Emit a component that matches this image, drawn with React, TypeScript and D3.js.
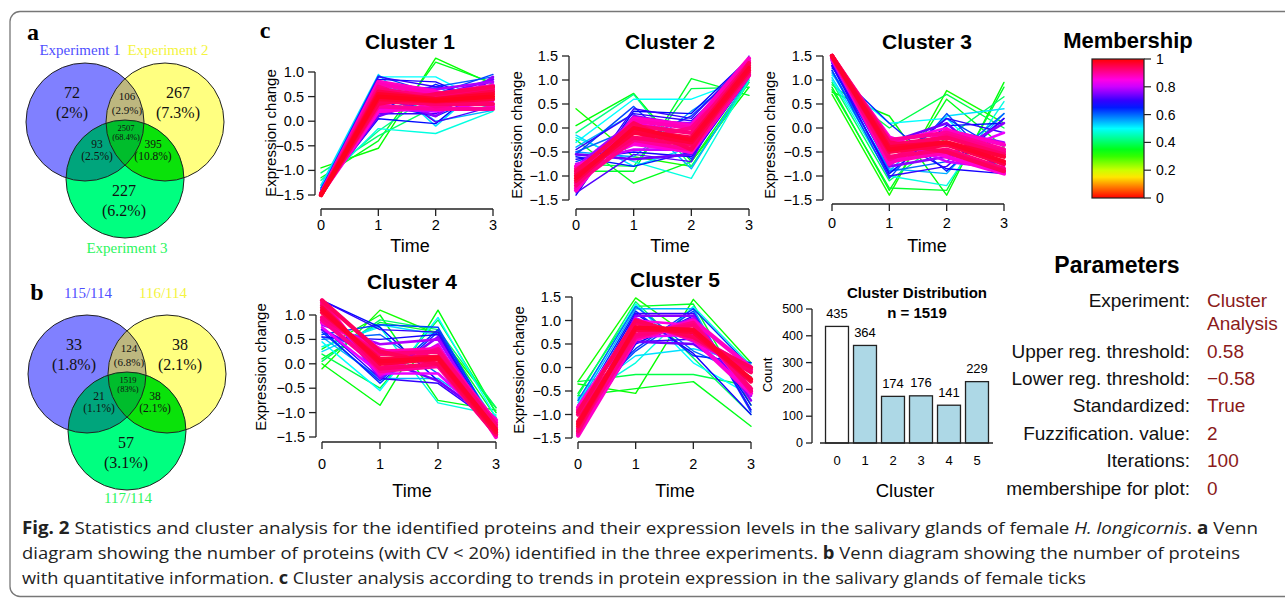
import React from "react";
import * as d3 from "d3";

const SANS = "'Liberation Sans', Arial, Helvetica, sans-serif";
const SERIF = "'Liberation Serif', 'Times New Roman', serif";

// ---- Venn data (regions: 1, 2, 3, 1∩2, 1∩3, 2∩3, 1∩2∩3)
const vennACounts = ["72", "267", "227", "106", "93", "395", "2507"];
const vennAPercents = ["2%", "7.3%", "6.2%", "2.9%", "2.5%", "10.8%", "68.4%"];
const vennASets = ["Experiment 1", "Experiment 2", "Experiment 3"];
const vennBCounts = ["33", "38", "57", "124", "21", "38", "1519"];
const vennBPercents = ["1.8%", "2.1%", "3.1%", "6.8%", "1.1%", "2.1%", "83%"];
const vennBSets = ["115/114", "116/114", "117/114"];

// ---- cluster profiles: [membership, t0, t1, t2, t3]
const timePoints = [0, 1, 2, 3];
const clusterNames = ["Cluster 1", "Cluster 2", "Cluster 3", "Cluster 4", "Cluster 5"];

const cluster1 = [
  [0.33, -0.95, -0.55, 1.28, 0.75],
  [0.35, -1.15, -0.4, 1.2, 0.78],
  [0.4, -1.05, -0.3, 0.3, 0.7],
  [0.42, -1.2, -0.2, 0.6, 0.25],
  [0.48, -1.3, -0.15, -0.25, 0.2],
  [0.5, -1.35, 0.9, 0.9, 0.3],
  [0.52, -1.3, 0.95, -0.1, 0.9],
  [0.55, -1.35, 0.1, 0.7, 0.25],
  [0.55, -1.4, 0.85, 0.0, 0.22],
  [0.6, -1.36, 0.6, 0.7, 0.9],
  [0.62, -1.38, 0.92, 0.55, 0.95],
  [0.64, -1.4, 0.35, 0.1, 0.6],
  [0.65, -1.4, 0.2, 0.75, 0.35],
  [0.66, -1.42, 0.05, -0.05, 0.9],
  [0.68, -1.42, 0.85, 0.8, 0.3],
  [0.7, -1.45, 0.15, 0.15, 0.85],
  [0.7, -1.43, 0.9, 0.7, 0.5],
  [0.72, -1.44, 0.8, -0.02, 0.3],
  [0.74, -1.45, 0.1, 0.5, 0.85],
  [0.76, -1.45, 0.55, 0.1, 0.9],
  [0.78, -1.46, 0.75, 0.65, 0.8],
  [0.8, -1.46, 0.25, 0.2, 0.75],
  [0.82, -1.47, 0.7, 0.2, 0.4],
  [0.84, -1.47, 0.3, 0.6, 0.3],
  [0.86, -1.48, 0.2, 0.3, 0.7],
  [0.87, -1.48, 0.8, 0.6, 0.3],
  [0.88, -1.48, 0.75, 0.55, 0.72],
  [0.9, -1.48, 0.3, 0.25, 0.25],
  [0.91, -1.49, 0.7, 0.3, 0.45],
  [0.92, -1.49, 0.65, 0.5, 0.65],
  [0.93, -1.49, 0.4, 0.35, 0.35],
  [0.94, -1.5, 0.35, 0.55, 0.7],
  [0.95, -1.5, 0.6, 0.45, 0.6],
  [0.96, -1.5, 0.45, 0.4, 0.45],
  [0.97, -1.5, 0.55, 0.45, 0.55],
  [0.98, -1.5, 0.5, 0.42, 0.5],
];

const cluster2 = [
  [0.32, 0.4, -0.6, -0.8, 0.95],
  [0.34, 0.05, 0.72, -0.7, 0.85],
  [0.35, -0.25, -1.15, -0.7, 1.0],
  [0.36, -0.9, -0.9, 1.03, 0.68],
  [0.38, -0.75, -0.8, 0.82, 0.85],
  [0.42, -0.1, 0.7, -0.8, 0.95],
  [0.48, -0.2, -0.7, -1.05, 1.0],
  [0.5, -0.3, 0.6, 0.6, 1.05],
  [0.52, -0.15, -0.8, -0.4, 1.1],
  [0.55, -0.4, 0.3, -0.85, 1.05],
  [0.56, -0.5, -0.6, 0.35, 1.15],
  [0.6, -0.5, 0.0, -0.2, 1.2],
  [0.62, -0.55, 0.45, -0.65, 1.2],
  [0.63, -0.7, -0.3, 0.25, 1.35],
  [0.65, -0.6, -0.8, -0.5, 1.3],
  [0.67, -1.4, 0.35, 0.3, 1.45],
  [0.68, -0.65, -0.5, -0.6, 1.05],
  [0.7, -0.45, 0.3, 0.15, 1.25],
  [0.7, -1.3, 0.4, 0.2, 1.45],
  [0.72, -1.35, -0.55, -0.7, 1.5],
  [0.74, -0.55, -0.65, -0.55, 1.1],
  [0.76, -1.2, 0.25, 0.05, 1.45],
  [0.78, -0.8, 0.15, 0.1, 1.35],
  [0.8, -0.75, -0.45, -0.45, 1.1],
  [0.82, -1.3, 0.1, -0.1, 1.4],
  [0.85, -0.85, -0.35, -0.5, 1.15],
  [0.86, -0.8, -0.3, -0.5, 1.1],
  [0.87, -1.3, 0.2, 0.05, 1.45],
  [0.88, -1.25, 0.15, 0.0, 1.4],
  [0.9, -0.85, -0.25, -0.45, 1.1],
  [0.91, -1.15, -0.25, 0.0, 1.2],
  [0.92, -1.2, 0.05, -0.1, 1.35],
  [0.93, -0.95, -0.2, -0.35, 1.15],
  [0.94, -0.9, 0.1, -0.45, 1.35],
  [0.95, -1.1, -0.05, -0.2, 1.3],
  [0.96, -1.0, -0.1, -0.3, 1.2],
  [0.97, -1.05, 0.0, -0.25, 1.25],
];

const cluster3 = [
  [0.32, 0.7, -1.4, 0.78, 0.1],
  [0.34, 0.75, 0.25, -1.4, 0.95],
  [0.35, 0.85, -1.3, 0.6, -0.4],
  [0.36, 0.8, -1.25, -1.3, 0.85],
  [0.38, 0.9, 0.0, 0.7, 0.0],
  [0.4, 0.95, -1.1, -0.2, 0.65],
  [0.48, 1.0, -1.0, -1.2, 0.55],
  [0.5, 1.1, 0.1, 0.2, -0.9],
  [0.52, 1.05, -0.9, 0.25, 0.4],
  [0.55, 1.15, -0.85, -0.95, 0.3],
  [0.6, 1.2, -0.9, -0.7, 0.3],
  [0.62, 1.2, -1.05, 0.3, -0.95],
  [0.63, 1.3, -0.8, 0.2, -0.5],
  [0.64, 1.25, 0.1, -0.9, 0.2],
  [0.66, 1.3, -0.95, 0.05, 0.1],
  [0.68, 1.35, -0.2, -0.85, -0.95],
  [0.7, 1.3, -0.75, 0.2, -0.1],
  [0.7, 1.35, -1.0, -0.8, 0.2],
  [0.74, 1.4, -0.3, 0.1, -0.95],
  [0.76, 1.42, -0.8, -0.6, 0.1],
  [0.78, 1.4, -0.75, -0.05, -0.3],
  [0.8, 1.4, -0.2, -0.7, -0.85],
  [0.82, 1.45, -0.65, -0.55, -0.1],
  [0.85, 1.42, -0.3, 0.0, -0.8],
  [0.86, 1.45, -0.2, -0.6, -0.95],
  [0.87, 1.48, -0.75, -0.05, -0.35],
  [0.88, 1.48, -0.7, -0.5, -0.9],
  [0.9, 1.5, -0.25, -0.1, -0.45],
  [0.91, 1.5, -0.65, -0.15, -0.5],
  [0.92, 1.48, -0.6, -0.45, -0.85],
  [0.93, 1.5, -0.35, -0.2, -0.55],
  [0.94, 1.5, -0.3, -0.5, -0.9],
  [0.95, 1.5, -0.5, -0.35, -0.75],
  [0.96, 1.5, -0.4, -0.3, -0.6],
  [0.97, 1.5, -0.45, -0.3, -0.7],
];

const cluster4 = [
  [0.32, -0.1, 1.1, 0.6, -0.9],
  [0.34, 0.0, -0.85, 1.1, -1.0],
  [0.35, 0.3, 1.0, -0.75, -0.95],
  [0.36, 0.1, 0.85, 0.65, -1.1],
  [0.38, 0.2, -0.5, 0.9, -1.0],
  [0.4, 0.05, 0.9, 0.7, -0.9],
  [0.48, 0.35, 0.75, -0.8, -1.05],
  [0.5, 0.45, -0.55, 0.95, -1.1],
  [0.52, 0.25, 0.8, 0.6, -1.2],
  [0.55, 0.55, -0.3, -0.3, -1.1],
  [0.6, 0.5, 0.6, -0.2, -1.15],
  [0.62, 0.6, 0.8, 0.75, -1.3],
  [0.63, 0.65, -0.35, 0.7, -1.3],
  [0.64, 0.7, -0.4, 0.65, -1.35],
  [0.66, 1.3, 0.75, -0.35, -1.2],
  [0.68, 0.55, 0.5, 0.6, -1.4],
  [0.7, 0.75, -0.3, -0.4, -1.25],
  [0.7, 1.3, 0.7, 0.65, -1.45],
  [0.74, 0.7, 0.1, -0.35, -1.2],
  [0.76, 1.25, -0.3, 0.55, -1.5],
  [0.78, 0.8, 0.4, 0.5, -1.35],
  [0.8, 1.2, -0.25, 0.4, -1.45],
  [0.82, 0.75, -0.2, -0.2, -1.3],
  [0.85, 1.25, 0.3, 0.0, -1.4],
  [0.86, 0.85, 0.3, -0.05, -1.15],
  [0.87, 1.3, -0.2, 0.35, -1.5],
  [0.88, 0.9, 0.25, 0.3, -1.2],
  [0.9, 1.25, -0.15, -0.05, -1.45],
  [0.91, 0.9, -0.1, 0.3, -1.3],
  [0.92, 0.95, 0.2, 0.25, -1.25],
  [0.93, 1.2, -0.1, 0.0, -1.45],
  [0.94, 1.3, 0.25, 0.0, -1.4],
  [0.95, 1.05, 0.1, 0.15, -1.35],
  [0.96, 1.15, 0.0, 0.1, -1.4],
  [0.97, 1.1, 0.05, 0.12, -1.35],
];

const cluster5 = [
  [0.32, -0.3, 1.48, 0.6, -0.2],
  [0.33, -0.35, -0.55, 1.45, 0.1],
  [0.35, -0.6, -0.45, -0.3, -1.25],
  [0.36, -0.55, 1.3, 1.35, -0.8],
  [0.38, -0.3, -0.15, -0.15, -0.4],
  [0.4, -0.6, 1.4, 0.2, -1.0],
  [0.48, -0.7, 0.1, 1.3, 0.05],
  [0.5, -0.75, 1.35, 0.1, -0.6],
  [0.52, -0.65, 0.25, 0.4, 0.1],
  [0.55, -0.8, 1.25, 1.25, -0.9],
  [0.6, -0.7, 1.3, 0.35, -0.2],
  [0.62, -0.85, 0.35, 1.2, -0.95],
  [0.63, -0.8, 0.4, 1.25, 0.0],
  [0.64, -0.9, 1.2, 0.25, 0.1],
  [0.66, -1.4, 0.5, 1.1, -0.8],
  [0.68, -1.0, 1.15, 0.3, -1.0],
  [0.7, -1.45, 0.55, 0.6, 0.0],
  [0.7, -1.45, 1.15, 1.15, -0.9],
  [0.74, -0.85, 0.55, 0.5, -0.3],
  [0.76, -1.4, 1.1, 1.1, -0.7],
  [0.78, -0.95, 0.6, 1.05, -0.6],
  [0.8, -1.35, 1.05, 0.55, -0.1],
  [0.82, -1.0, 0.65, 0.7, 0.0],
  [0.85, -1.4, 1.0, 0.9, -0.55],
  [0.86, -0.85, 0.95, 0.6, -0.55],
  [0.87, -1.45, 0.6, 1.0, 0.0],
  [0.88, -0.9, 0.6, 0.95, -0.5],
  [0.9, -1.4, 1.0, 0.6, -0.05],
  [0.91, -1.3, 0.65, 0.95, -0.5],
  [0.92, -1.0, 0.7, 0.9, -0.45],
  [0.93, -1.35, 0.95, 0.65, -0.1],
  [0.94, -0.95, 1.0, 0.65, 0.0],
  [0.95, -1.15, 0.8, 0.8, -0.3],
  [0.96, -1.25, 0.85, 0.75, -0.25],
  [0.97, -1.2, 0.85, 0.8, -0.25],
];

const clusterData = [cluster1, cluster2, cluster3, cluster4, cluster5];
const yTicksShort = [-1.5, -1, -0.5, 0, 0.5, 1];
const yTicksTall = [-1.5, -1, -0.5, 0, 0.5, 1, 1.5];

// ---- cluster distribution
const barClusters = ["0", "1", "2", "3", "4", "5"];
const barCounts = [435, 364, 174, 176, 141, 229];
const barTicks = [0, 100, 200, 300, 400, 500];

// ---- membership legend
const membershipTicks = [0, 0.2, 0.4, 0.6, 0.8, 1];

// ---- parameters
const paramLabels = [
  "Experiment:",
  "Upper reg. threshold:",
  "Lower reg. threshold:",
  "Standardized:",
  "Fuzzification. value:",
  "Iterations:",
  "membershipe for plot:",
];
const paramValues = [["Cluster", "Analysis"], ["0.58"], ["\u22120.58"], ["True"], ["2"], ["100"], ["0"]];

const memberColor = (m: number) => d3.hsl(m * 360, 1, 0.5).formatHex();

// layout of the five profile panels
const panelLayout = [
  { x0: 321, x1: 493, axisX: 315, yMax: 1.0, yTopPx: 72, yBotPx: 195, axisY: 209, titleX: 410, titleY: 41, tickY: 225, timeY: 246, labX: 270, labY: 133 },
  { x0: 576, x1: 749, axisX: 569, yMax: 1.5, yTopPx: 56, yBotPx: 200, axisY: 209, titleX: 670, titleY: 41, tickY: 225, timeY: 246, labX: 516, labY: 135 },
  { x0: 832, x1: 1004, axisX: 823, yMax: 1.5, yTopPx: 56, yBotPx: 200, axisY: 204, titleX: 927, titleY: 41, tickY: 223, timeY: 246, labX: 769, labY: 135 },
  { x0: 322, x1: 496, axisX: 316, yMax: 1.0, yTopPx: 315, yBotPx: 437, axisY: 442, titleX: 412, titleY: 281, tickY: 464, timeY: 491, labX: 260, labY: 367 },
  { x0: 578, x1: 751, axisX: 572, yMax: 1.5, yTopPx: 297, yBotPx: 438, axisY: 442, titleX: 675, titleY: 279, tickY: 464, timeY: 491, labX: 518, labY: 370 },
];

function ClusterPanel({ name, rows, L }: any) {
  const x = d3.scaleLinear().domain([0, 3]).range([L.x0, L.x1]);
  const y = d3.scaleLinear().domain([-1.5, L.yMax]).range([L.yBotPx, L.yTopPx]);
  const line = d3
    .line<number>()
    .x((_, i) => x(timePoints[i]))
    .y((v) => y(v));
  const sorted = [...rows].sort((a: number[], b: number[]) => a[0] - b[0]);
  const ticks = L.yMax > 1.2 ? yTicksTall : yTicksShort;
  const fmt = d3.format(".1f");

  return (
    <g fontFamily={SANS}>
      <text x={L.titleX} y={L.titleY} textAnchor="middle" dominantBaseline="central" fontSize={21} fontWeight="bold">
        {name}
      </text>
      {sorted.map((r: number[], i: number) => (
        <path
          key={i}
          d={line(r.slice(1)) as string}
          fill="none"
          stroke={memberColor(r[0])}
          strokeWidth={r[0] >= 0.86 ? 4.2 : r[0] >= 0.74 ? 2.6 : 1.4}
          strokeLinejoin="round"
          strokeLinecap="round"
        />
      ))}
      {/* y axis */}
      <line x1={L.axisX} x2={L.axisX} y1={y(ticks[0])} y2={y(ticks[ticks.length - 1])} stroke="#222" strokeWidth={1.3} />
      {ticks.map((t) => (
        <g key={t}>
          <line x1={L.axisX - 7} x2={L.axisX} y1={y(t)} y2={y(t)} stroke="#222" strokeWidth={1.3} />
          <text x={L.axisX - 11} y={y(t)} textAnchor="end" dominantBaseline="central" fontSize={14.5}>
            {fmt(t)}
          </text>
        </g>
      ))}
      {/* x axis */}
      <line x1={x(0)} x2={x(3)} y1={L.axisY} y2={L.axisY} stroke="#222" strokeWidth={1.3} />
      {timePoints.map((t) => (
        <g key={t}>
          <line x1={x(t)} x2={x(t)} y1={L.axisY} y2={L.axisY + 7} stroke="#222" strokeWidth={1.3} />
          <text x={x(t)} y={L.tickY} textAnchor="middle" dominantBaseline="central" fontSize={14.5}>
            {t}
          </text>
        </g>
      ))}
      <text x={L.titleX} y={L.timeY} textAnchor="middle" dominantBaseline="central" fontSize={18}>
        Time
      </text>
      <text
        transform={`translate(${L.labX},${L.labY}) rotate(-90)`}
        textAnchor="middle"
        dominantBaseline="central"
        fontSize={15}
      >
        Expression change
      </text>
    </g>
  );
}

// region label offsets from the first circle centre (regions: 1,2,3,12,13,23,123)
const vennOffsets = [
  [-13, -20],
  [93, -20],
  [39, 78],
  [42, -19],
  [12, 28],
  [68, 28],
  [41, 10],
];
const vennFont = [16, 16, 16, 11, 11.5, 11.5, 8.5];
const vennGap = [20, 20, 20, 13.5, 12.5, 12.5, 9];

function Venn({ tag, ox, oy, counts, pcts, sets, setPos, tagPos }: any) {
  const r = 59;
  const c = [
    [ox, oy],
    [ox + 80, oy],
    [ox + 40, oy + 57],
  ];
  const id = (k: number) => `venn-${tag}-${k}`;
  const setColors = ["#4f4fff", "#f4f440", "#2cf560"];
  return (
    <g>
      <defs>
        {c.map((p, k) => (
          <clipPath id={id(k)} key={k}>
            <circle cx={p[0]} cy={p[1]} r={r} />
          </clipPath>
        ))}
      </defs>
      <circle cx={c[0][0]} cy={c[0][1]} r={r} fill="#8080ff" />
      <circle cx={c[1][0]} cy={c[1][1]} r={r} fill="#ffff80" />
      <circle cx={c[2][0]} cy={c[2][1]} r={r} fill="#00ff80" />
      <g clipPath={`url(#${id(0)})`}>
        <circle cx={c[1][0]} cy={c[1][1]} r={r} fill="#bdb77f" />
        <circle cx={c[2][0]} cy={c[2][1]} r={r} fill="#00a57c" />
      </g>
      <g clipPath={`url(#${id(1)})`}>
        <circle cx={c[2][0]} cy={c[2][1]} r={r} fill="#0ae20a" />
      </g>
      <g clipPath={`url(#${id(0)})`}>
        <g clipPath={`url(#${id(1)})`}>
          <circle cx={c[2][0]} cy={c[2][1]} r={r} fill="#00bd2c" />
        </g>
      </g>
      {c.map((p, k) => (
        <circle key={k} cx={p[0]} cy={p[1]} r={r} fill="none" stroke="#222" strokeWidth={1} />
      ))}
      <g fontFamily={SERIF} textAnchor="middle" dominantBaseline="central" fill="#111">
        {counts.map((n: string, k: number) => {
          const px = ox + vennOffsets[k][0];
          const py = oy + vennOffsets[k][1];
          return (
            <g key={k} fontSize={vennFont[k]}>
              <text x={px} y={py - vennGap[k] / 2}>{n}</text>
              <text x={px} y={py + vennGap[k] / 2}>({pcts[k]})</text>
            </g>
          );
        })}
        {sets.map((s: string, k: number) => (
          <text key={s} x={setPos[k][0]} y={setPos[k][1]} fontSize={15} fill={setColors[k]}>
            {s}
          </text>
        ))}
        <text x={tagPos[0]} y={tagPos[1]} fontSize={24} fontWeight="bold" fill="#000">
          {tag}
        </text>
      </g>
    </g>
  );
}

function MembershipBar() {
  const y = d3.scaleLinear().domain([0, 1]).range([198, 59]);
  const stops = d3.range(0, 1.0001, 0.05);
  return (
    <g fontFamily={SANS}>
      <defs>
        <linearGradient id="memb" x1="0" y1="1" x2="0" y2="0">
          {stops.map((s) => (
            <stop key={s} offset={s} stopColor={memberColor(s)} />
          ))}
        </linearGradient>
      </defs>
      <text x={1128} y={40} textAnchor="middle" dominantBaseline="central" fontSize={22} fontWeight="bold">
        Membership
      </text>
      <rect x={1092} y={y(1)} width={52} height={y(0) - y(1)} fill="url(#memb)" stroke="#222" strokeWidth={1.2} />
      {membershipTicks.map((t) => (
        <g key={t}>
          <line x1={1144} x2={1151} y1={y(t)} y2={y(t)} stroke="#222" strokeWidth={1.2} />
          <text x={1156} y={y(t)} dominantBaseline="central" fontSize={14}>
            {t}
          </text>
        </g>
      ))}
    </g>
  );
}

function BarChart() {
  const x = d3.scaleBand().domain(barClusters).range([823, 991]).paddingInner(0.18).paddingOuter(0.09);
  const y = d3.scaleLinear().domain([0, 500]).range([443, 309]);
  return (
    <g fontFamily={SANS}>
      <text x={917} y={292} textAnchor="middle" dominantBaseline="central" fontSize={15} fontWeight="bold">
        Cluster Distribution
      </text>
      <text x={917} y={312} textAnchor="middle" dominantBaseline="central" fontSize={15} fontWeight="bold">
        n = 1519
      </text>
      {barCounts.map((v, i) => (
        <g key={i}>
          <rect
            x={x(barClusters[i])}
            y={y(v)}
            width={x.bandwidth()}
            height={y(0) - y(v)}
            fill={i === 0 ? "#ffffff" : "#add8e6"}
            stroke="#222"
            strokeWidth={1.3}
          />
          <text x={(x(barClusters[i]) as number) + x.bandwidth() / 2} y={y(v) - 13} textAnchor="middle" dominantBaseline="central" fontSize={13}>
            {v}
          </text>
          <text x={(x(barClusters[i]) as number) + x.bandwidth() / 2} y={460} textAnchor="middle" dominantBaseline="central" fontSize={13}>
            {barClusters[i]}
          </text>
        </g>
      ))}
      <line x1={820} x2={993} y1={y(0)} y2={y(0)} stroke="#222" strokeWidth={1.3} />
      <line x1={812} x2={812} y1={y(0)} y2={y(500)} stroke="#222" strokeWidth={1.3} />
      {barTicks.map((t) => (
        <g key={t}>
          <line x1={806} x2={812} y1={y(t)} y2={y(t)} stroke="#222" strokeWidth={1.3} />
          <text x={803} y={y(t)} textAnchor="end" dominantBaseline="central" fontSize={12.5}>
            {t}
          </text>
        </g>
      ))}
      <text transform="translate(767,375) rotate(-90)" textAnchor="middle" dominantBaseline="central" fontSize={13}>
        Count
      </text>
      <text x={905} y={490} textAnchor="middle" dominantBaseline="central" fontSize={18.5}>
        Cluster
      </text>
    </g>
  );
}

function Parameters() {
  const rowY = (i: number) => (i === 0 ? 300 : 351 + (i - 1) * 27.4);
  return (
    <g fontFamily={SANS} fontSize={19} dominantBaseline="central">
      <text x={1117} y={265} textAnchor="middle" fontSize={23} fontWeight="bold">
        Parameters
      </text>
      {paramLabels.map((l, i) => (
        <g key={l}>
          <text x={1190} y={rowY(i)} textAnchor="end" fill="#111">
            {l}
          </text>
          {paramValues[i].map((v, j) => (
            <text key={j} x={1207} y={rowY(i) + j * 23} fill="#8b1a1a">
              {v}
            </text>
          ))}
        </g>
      ))}
    </g>
  );
}

function Caption() {
  const CAP = "'Open Sans', 'Noto Sans', sans-serif";
  return (
    <g fontFamily={CAP} fontSize={17} fill="#222" dominantBaseline="central">
      <text x={22} y={527} textLength={1236} lengthAdjust="spacingAndGlyphs">
        <tspan fontWeight="bold">Fig. 2</tspan>
        {"  Statistics and cluster analysis for the identified proteins and their expression levels in the salivary glands of female "}
        <tspan fontStyle="italic">H. longicornis</tspan>
        {". "}
        <tspan fontWeight="bold">a</tspan>
        {" Venn"}
      </text>
      <text x={22} y={552} textLength={1218} lengthAdjust="spacingAndGlyphs">
        {"diagram showing the number of proteins (with CV < 20%) identified in the three experiments. "}
        <tspan fontWeight="bold">b</tspan>
        {" Venn diagram showing the number of proteins"}
      </text>
      <text x={22} y={577} textLength={1064} lengthAdjust="spacingAndGlyphs">
        {"with quantitative information. "}
        <tspan fontWeight="bold">c</tspan>
        {" Cluster analysis according to trends in protein expression in the salivary glands of female ticks"}
      </text>
    </g>
  );
}

export default function App() {
  return (
    <svg
      width={1285}
      height={599}
      viewBox="0 0 1285 599"
      style={{ position: "absolute", left: 0, top: 0, background: "#fff" }}
    >
      <rect x={0} y={0} width={1285} height={599} fill="#fff" />
      <rect x={10} y={11.5} width={1300} height={585} rx={10} fill="none" stroke="#777" strokeWidth={1.3} />

      <Venn
        tag="a"
        ox={85}
        oy={122}
        counts={vennACounts}
        pcts={vennAPercents}
        sets={vennASets}
        setPos={[
          [80, 50],
          [168, 50],
          [127, 248],
        ]}
        tagPos={[33, 32]}
      />
      <Venn
        tag="b"
        ox={87}
        oy={374}
        counts={vennBCounts}
        pcts={vennBPercents}
        sets={vennBSets}
        setPos={[
          [88, 293],
          [163, 293],
          [128, 498],
        ]}
        tagPos={[37, 292]}
      />

      <text x={265} y={30} fontFamily={SERIF} fontSize={24} fontWeight="bold" textAnchor="middle" dominantBaseline="central">
        c
      </text>

      {clusterData.map((rows, i) => (
        <ClusterPanel key={i} name={clusterNames[i]} rows={rows} L={panelLayout[i]} />
      ))}

      <MembershipBar />
      <BarChart />
      <Parameters />
      <Caption />
    </svg>
  );
}
